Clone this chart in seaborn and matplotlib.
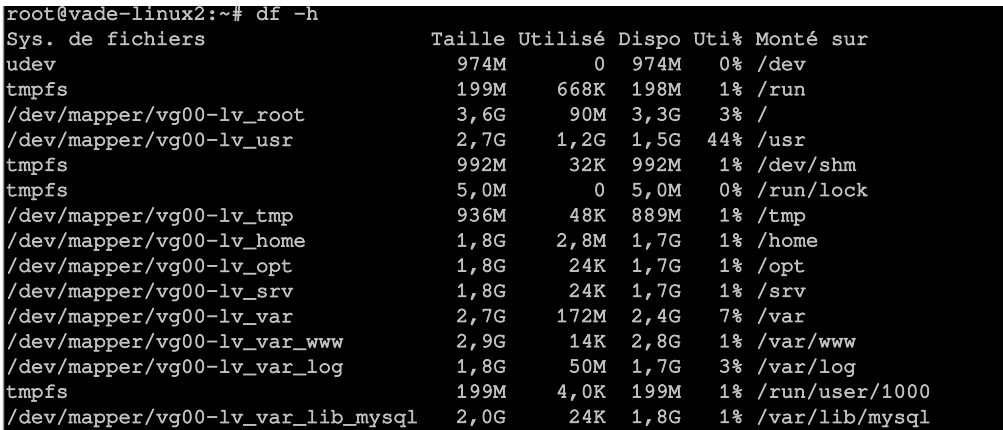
import matplotlib
matplotlib.use("Agg")
import matplotlib.pyplot as plt
import matplotlib.patheffects as pe
import seaborn as sns
import pandas as pd

# terminal session: df -h output
prompt = "root@vade-linux2:~# df -h"
headers = ["Sys. de fichiers", "Taille", "Utilisé", "Dispo", "Uti%", "Monté sur"]

filesystems = ["udev", "tmpfs", "/dev/mapper/vg00-lv_root", "/dev/mapper/vg00-lv_usr",
               "tmpfs", "tmpfs", "/dev/mapper/vg00-lv_tmp", "/dev/mapper/vg00-lv_home",
               "/dev/mapper/vg00-lv_opt", "/dev/mapper/vg00-lv_srv", "/dev/mapper/vg00-lv_var",
               "/dev/mapper/vg00-lv_var_www", "/dev/mapper/vg00-lv_var_log", "tmpfs",
               "/dev/mapper/vg00-lv_var_lib_mysql"]
sizes = ["974M", "199M", "3,6G", "2,7G", "992M", "5,0M", "936M", "1,8G",
         "1,8G", "1,8G", "2,7G", "2,9G", "1,8G", "199M", "2,0G"]
used = ["0", "668K", "90M", "1,2G", "32K", "0", "48K", "2,8M",
        "24K", "24K", "172M", "14K", "50M", "4,0K", "24K"]
avail = ["974M", "198M", "3,3G", "1,5G", "992M", "5,0M", "889M", "1,7G",
         "1,7G", "1,7G", "2,4G", "2,8G", "1,7G", "199M", "1,8G"]
use_pct = ["0%", "1%", "3%", "44%", "1%", "0%", "1%", "1%",
           "1%", "1%", "7%", "1%", "3%", "1%", "1%"]
mounts = ["/dev", "/run", "/", "/usr", "/dev/shm", "/run/lock", "/tmp", "/home",
          "/opt", "/srv", "/var", "/var/www", "/var/log", "/run/user/1000", "/var/lib/mysql"]

df = pd.DataFrame({"fs": filesystems, "size": sizes, "used": used,
                   "avail": avail, "pct": use_pct, "mount": mounts})

# column anchors in character cells (df aligns sizes to the right)
anchors = [(0, "left"), (40, "right"), (48, "right"), (54, "right"), (59, "right"), (60, "left")]

sns.set_theme(style="dark")
plt.rcParams["font.family"] = ["FreeMono", "Courier Prime", "Liberation Mono"]

fig = plt.figure(figsize=(10.04, 4.30), dpi=100, facecolor="white")
ax = fig.add_axes([4 / 1004, 0, 1000 / 1004, 424 / 430])
ax.set_facecolor("black")
fig.add_artist(plt.Line2D([3.5 / 1004, 3.5 / 1004], [0, 424 / 430], color="#9a9a9a", lw=1))

fg = "#c0c0c0"
fs = 15
# courier in a windows console renders a bit heavier than FreeMono
style = dict(va="center", color=fg, fontsize=fs,
             path_effects=[pe.withStroke(linewidth=0.7, foreground=fg)])

ax.text(0, 0, prompt, ha="left", **style)
for (x, ha), h in zip(anchors, headers):
    ax.text(x, 1, h, ha=ha, **style)

for i, row in enumerate(df.itertuples(index=False)):
    for (x, ha), val in zip(anchors, row):
        ax.text(x, i + 2, val, ha=ha, **style)

ax.set_xlim(-0.16, 79.84)
ax.set_ylim(16.47, -0.357)
ax.set_xticks([])
ax.set_yticks([])
for s in ax.spines.values():
    s.set_visible(False)

fig.savefig("out.png", dpi=100, facecolor="white")
